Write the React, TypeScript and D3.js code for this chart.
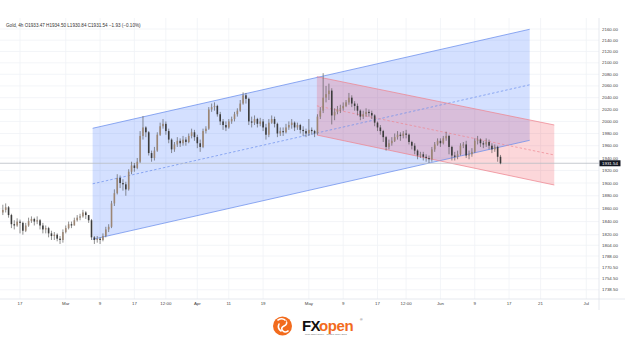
import React from 'react';
import * as d3 from 'd3';

const W = 625;
const H = 343;

const priceTicks = [2160, 2140, 2120, 2100, 2080, 2060, 2040, 2020, 2000, 1980, 1960, 1940, 1920, 1900, 1880, 1860, 1840, 1820, 1804, 1788, 1770.5, 1754.5, 1738.5];
const xTickLabels = ['17', 'Mar', '9', '17', '12:00', 'Apr', '11', '19', 'May', '9', '17', '12:00', 'Jun', '9', '17', '21', 'Jul'];
const xTickDays = [0, 8, 14, 20, 25.5, 31, 36.5, 42.5, 50.5, 56.5, 62.5, 67.5, 73.5, 79.5, 85.5, 91, 99];

const firstDay = -3;
const barStep = 0.5;
const firstOpen = 1854;
const closes = [
  1858, 1862, 1850, 1836, 1834, 1840, 1838, 1826, 1834, 1841,
  1844, 1840, 1842, 1834, 1828, 1830, 1822, 1818, 1820, 1814,
  1812, 1824, 1830, 1836, 1834, 1842, 1846, 1848, 1854, 1850,
  1842, 1816, 1812, 1814, 1812, 1818, 1828, 1832, 1868, 1884,
  1908, 1900, 1898, 1890, 1918, 1928, 1924, 1934, 1976, 1990,
  1982, 1948, 1940, 1952, 1978, 1992, 1996, 1984, 1970, 1954,
  1962, 1968, 1964, 1970, 1966, 1976, 1982, 1974, 1964, 1958,
  1984, 1988, 2020, 2024, 2026, 2012, 2000, 1994, 1990, 2000,
  2004, 2012, 2018, 2030, 2044, 2038, 2000, 1998, 2004, 1996,
  2000, 1990, 1978, 1998, 2004, 1996, 1980, 1984, 1982, 1990,
  1994, 1998, 1990, 1994, 1986, 1984, 1980, 1986, 1984, 1980,
  2008, 2018, 2040, 2046, 2052, 2010, 2016, 2020, 2022, 2026,
  2032, 2040, 2030, 2026, 2018, 2008, 2012, 2016, 2014, 2010,
  1998, 1990, 1984, 1974, 1958, 1964, 1968, 1974, 1978, 1976,
  1980, 1978, 1966, 1960, 1952, 1944, 1946, 1942, 1940, 1938,
  1954, 1962, 1968, 1964, 1972, 1976, 1958, 1944, 1942, 1946,
  1960, 1962, 1944, 1946, 1950, 1968, 1970, 1964, 1962, 1966,
  1960, 1954, 1958, 1942, 1931.54,
];
const highs = [
  1866, 1868, 1864, 1852, 1842, 1845, 1843, 1840, 1838, 1846,
  1848, 1846, 1848, 1844, 1838, 1834, 1832, 1826, 1824, 1822,
  1818, 1828, 1834, 1840, 1840, 1846, 1850, 1852, 1858, 1856,
  1848, 1844, 1818, 1818, 1816, 1822, 1832, 1836, 1872, 1890,
  1914, 1912, 1906, 1902, 1922, 1934, 1932, 1940, 1984, 2009,
  1992, 1984, 1952, 1958, 1982, 1998, 2004, 2000, 1988, 1972,
  1966, 1974, 1972, 1976, 1974, 1980, 1988, 1986, 1978, 1970,
  1988, 1992, 2024, 2030, 2032, 2028, 2016, 2004, 2000, 2004,
  2008, 2016, 2022, 2036, 2049, 2048, 2040, 2008, 2010, 2006,
  2006, 2004, 1996, 2004, 2010, 2008, 1998, 1990, 1990, 1996,
  2000, 2004, 2000, 1998, 1996, 1992, 1988, 2004, 1990, 1986,
  2012, 2024, 2082, 2060, 2064, 2056, 2022, 2026, 2028, 2032,
  2036, 2048, 2044, 2034, 2030, 2020, 2018, 2022, 2020, 2018,
  2012, 2000, 1994, 1986, 1976, 1970, 1974, 1980, 1984, 1982,
  1984, 1986, 1980, 1968, 1964, 1954, 1950, 1950, 1946, 1944,
  1958, 1966, 1972, 1972, 1976, 1983, 1978, 1960, 1950, 1952,
  1964, 1966, 1968, 1952, 1956, 1972, 1976, 1972, 1968, 1972,
  1970, 1964, 1962, 1960, 1945,
];
const lows = [
  1850, 1854, 1846, 1830, 1828, 1832, 1822, 1820, 1824, 1832,
  1838, 1834, 1836, 1828, 1822, 1822, 1816, 1812, 1812, 1810,
  1806, 1808, 1822, 1828, 1830, 1834, 1840, 1842, 1846, 1844,
  1838, 1812, 1806, 1808, 1806, 1810, 1816, 1824, 1830, 1864,
  1882, 1892, 1888, 1880, 1888, 1914, 1918, 1922, 1932, 1970,
  1974, 1944, 1934, 1936, 1950, 1976, 1988, 1978, 1964, 1948,
  1950, 1958, 1958, 1960, 1960, 1964, 1972, 1968, 1956, 1950,
  1956, 1980, 1986, 2016, 2018, 2008, 1994, 1986, 1984, 1988,
  1996, 2000, 2008, 2016, 2028, 2030, 1994, 1990, 1994, 1990,
  1992, 1984, 1970, 1974, 1996, 1990, 1974, 1976, 1976, 1980,
  1986, 1988, 1984, 1986, 1980, 1976, 1974, 1976, 1978, 1974,
  1978, 2004, 2014, 2032, 2036, 1995, 2002, 2012, 2014, 2018,
  2024, 2028, 2024, 2018, 2010, 2002, 2004, 2008, 2008, 2004,
  1992, 1984, 1978, 1966, 1952, 1954, 1960, 1966, 1970, 1968,
  1972, 1972, 1962, 1954, 1946, 1938, 1940, 1936, 1934, 1932,
  1934, 1950, 1960, 1958, 1962, 1968, 1946, 1936, 1936, 1938,
  1944, 1956, 1940, 1938, 1942, 1948, 1962, 1958, 1956, 1958,
  1954, 1948, 1950, 1934, 1930,
];

const lastPrice = 1931.54;
const headerText = 'Gold, 4h  O1933.47 H1934.50 L1930.84 C1931.54 \u22121.93 (\u22120.10%)';

const blueDays = [12.7, 89.1];
const blueUpper = [1988.6, 2159.5];
const blueLower = [1813, 1968.8];
const redDays = [51.9, 93.4];
const redUpper = [2075.9, 1994.1];
const redLower = [1977.5, 1896.9];

const FONT = '"Liberation Sans", Arial, sans-serif';

export default function App() {
  const plotLeft = 0;
  const plotRight = 599;
  const plotTop = 18;
  const plotBottom = 299;

  const y = d3.scaleLog().domain([2160, 1820]).range([29, 234.7]);
  const x = d3.scaleLinear().domain([0, 99]).range([20, 586.3]);

  const channel = (days: number[], up: number[], lo: number[]) => {
    const x0 = x(days[0]);
    const x1 = x(days[1]);
    const u0 = y(up[0]);
    const u1 = y(up[1]);
    const l0 = y(lo[0]);
    const l1 = y(lo[1]);
    return {
      poly: `M${x0},${u0}L${x1},${u1}L${x1},${l1}L${x0},${l0}Z`,
      upper: [x0, u0, x1, u1],
      lower: [x0, l0, x1, l1],
      mid: [x0, (u0 + l0) / 2, x1, (u1 + l1) / 2],
    };
  };
  const blue = channel(blueDays, blueUpper, blueLower);
  const red = channel(redDays, redUpper, redLower);

  const candles = closes.map((c, i) => {
    const o = i === 0 ? firstOpen : closes[i - 1];
    const h = Math.max(highs[i], o, c);
    const l = Math.min(lows[i], o, c);
    return { o, h, l, c, day: firstDay + i * barStep };
  });
  const bw = (x(barStep) - x(0)) * 0.55;

  const ln = (a: number[], stroke: string, dash?: string, sw = 0.75) => (
    <line x1={a[0]} y1={a[1]} x2={a[2]} y2={a[3]} stroke={stroke} strokeWidth={sw} strokeDasharray={dash} />
  );

  const yLast = y(lastPrice);

  return (
    <svg width={W} height={H} style={{ position: 'absolute', left: 0, top: 0, background: '#fff' }} fontFamily={FONT}>
      <defs>
        <clipPath id="plot">
          <rect x={plotLeft} y={plotTop} width={plotRight - plotLeft} height={plotBottom - plotTop} />
        </clipPath>
      </defs>
      <rect x={0} y={0} width={W} height={H} fill="#fff" />
      <g clipPath="url(#plot)">
        {priceTicks.map((p) => (
          <line key={'h' + p} x1={plotLeft} x2={plotRight} y1={y(p)} y2={y(p)} stroke="#f0f2f6" strokeWidth={0.8} />
        ))}
        {xTickDays.map((d, i) => (
          <line key={'v' + i} x1={x(d)} x2={x(d)} y1={plotTop} y2={plotBottom} stroke="#f0f2f6" strokeWidth={0.8} />
        ))}
      </g>
      <g clipPath="url(#plot)">
        <path d={blue.poly} fill="rgba(41,98,255,0.2)" />
        <path d={red.poly} fill="rgba(242,54,69,0.2)" />
        {ln(blue.upper, '#6a8eec')}
        {ln(blue.lower, '#6a8eec')}
        {ln(blue.mid, '#6a8eec', '2.5,2', 0.7)}
        {ln(red.upper, '#ee8690')}
        {ln(red.lower, '#ee8690')}
        {ln(red.mid, '#ee8690', '2.5,2', 0.7)}
        <line x1={plotLeft} x2={plotRight} y1={yLast} y2={yLast} stroke="#b8bcc4" strokeWidth={0.8} />
        {candles.map((k, i) => {
          const cx = x(k.day);
          const up = k.c >= k.o;
          const top = y(Math.max(k.o, k.c));
          const bot = y(Math.min(k.o, k.c));
          return (
            <g key={'c' + i}>
              <line x1={cx} x2={cx} y1={y(k.h)} y2={y(k.l)} stroke="#555" strokeWidth={0.65} />
              <rect x={cx - bw / 2} y={top} width={bw} height={Math.max(0.6, bot - top)} fill={up ? '#9c8674' : '#3c3c3c'} />
            </g>
          );
        })}
      </g>
      <text x={6} y={26.5} fontSize={4.6} fill="#333">{headerText}</text>
      <line x1={plotRight} x2={plotRight} y1={plotTop} y2={310} stroke="#e0e3eb" strokeWidth={0.8} />
      <line x1={0} x2={W} y1={plotBottom} y2={plotBottom} stroke="#e0e3eb" strokeWidth={0.8} />
      {priceTicks.map((p) => (
        <text key={'t' + p} x={602} y={y(p)} dy="0.35em" fontSize={4.4} fill="#444">
          {d3.format('.2f')(p)}
        </text>
      ))}
      <rect x={599.5} y={yLast - 3} width={21} height={6} fill="#131722" />
      <text x={602} y={yLast} dy="0.35em" fontSize={4.4} fill="#fff">{d3.format('.2f')(lastPrice)}</text>
      {xTickLabels.map((t, i) => (
        <text key={'xl' + i} x={x(xTickDays[i])} y={305} textAnchor="middle" fontSize={4.4} fill="#444">
          {t}
        </text>
      ))}
      <g>
        <circle cx={282.5} cy={326} r={9.5} fill="#f26b1d" />
        <path d="M278,320 q5,-3 8,1 q2,3 -2,5 q-4,2 -1,5 q2,2 5,0 M279,324 q-2,4 2,7" fill="none" stroke="#fff" strokeWidth={1.6} strokeLinecap="round" />
        <circle cx={285.5} cy={321.5} r={0.9} fill="#f26b1d" />
        <text x={302} y={330.5} fontSize={15} fontWeight={900} fill="#111" letterSpacing={-0.6}>FX</text>
        <text x={319} y={330.5} fontSize={15} fontWeight={700} fill="#f26b1d" letterSpacing={-0.4}>open</text>
        <text x={360} y={321} fontSize={3.5} fill="#555">®</text>
        <text x={305} y={335} fontSize={2.2} fill="#555" letterSpacing={0.1}>Multi-asset broker · Trusted since 2005</text>
      </g>
    </svg>
  );
}
